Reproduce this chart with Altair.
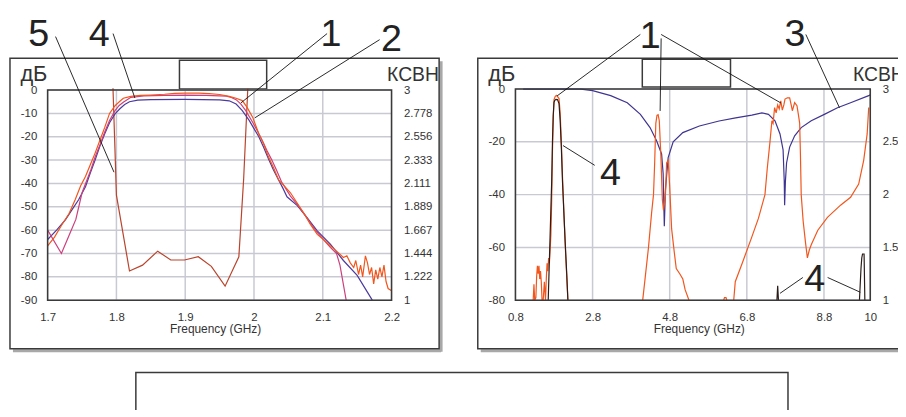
import altair as alt
import pandas as pd

# ---------------- data: left panel (1.7 - 2.2 GHz) ----------------
L_freq_ticks = [1.7, 1.8, 1.9, 2.0, 2.1, 2.2]
L_db_ticks = [0, -10, -20, -30, -40, -50, -60, -70, -80, -90]
L_vswr_ticks = [3, 2.778, 2.556, 2.333, 2.111, 1.889, 1.667, 1.444, 1.222, 1]

L_orange_f = [1.700, 1.710, 1.720, 1.731, 1.740, 1.748, 1.755, 1.762, 1.769, 1.776, 1.783, 1.790, 1.798,
              1.805, 1.810, 1.821, 1.835, 1.850, 1.870, 1.885, 1.900, 1.920, 1.935, 1.950, 1.964, 1.974,
              1.983, 1.990, 1.998, 2.007, 2.014, 2.021, 2.028, 2.036, 2.044, 2.053, 2.063, 2.073, 2.082,
              2.092, 2.101, 2.111, 2.120, 2.130, 2.135, 2.140, 2.145, 2.148, 2.152, 2.155, 2.158, 2.162,
              2.165, 2.168, 2.171, 2.174, 2.177, 2.180, 2.183, 2.186, 2.189, 2.192, 2.195, 2.200]
L_orange_db = [-66.7, -63, -58, -53, -47, -41, -37, -32, -27, -21.5, -16, -10, -6.7,
               -4.8, -3.5, -2.7, -2.3, -2.1, -1.8, -1.4, -1.3, -1.3, -1.5, -1.9, -2.7, -3.5,
               -4.5, -7.4, -11.6, -18.7, -23, -28.6, -33, -38.6, -41, -44, -48.5, -53, -57.5,
               -61.8, -64, -66.7, -69, -71.7, -71, -74, -76, -73, -79, -75, -80, -71,
               -74, -79, -76, -83, -77, -81, -76, -80, -75, -82, -85, -86]

L_magenta_f = [1.700, 1.720, 1.730, 1.741, 1.750, 1.757, 1.763, 1.769, 1.776, 1.783, 1.790, 1.798, 1.804,
               1.810, 1.821, 1.840, 1.870, 1.900, 1.930, 1.960, 1.967, 1.974, 1.981, 1.988, 1.998, 2.005,
               2.012, 2.019, 2.026, 2.033, 2.040, 2.053, 2.063, 2.073, 2.082, 2.092, 2.101, 2.111, 2.120,
               2.125, 2.134]
L_magenta_db = [-60, -70, -63, -55.4, -44, -38.6, -34, -28.7, -23.5, -18, -13, -8.8, -6.6,
                -5.2, -3.1, -2.5, -2.3, -2.2, -2.3, -2.6, -3.2, -4.1, -6, -8.8, -13.8, -17.5,
                -21.6, -26, -30, -34.5, -39.3, -45.4, -49, -53, -57, -61, -64, -67.4, -70,
                -75, -90]

L_blue_f = [1.700, 1.713, 1.726, 1.736, 1.745, 1.755, 1.762, 1.769, 1.776, 1.783, 1.790, 1.798, 1.805,
            1.812, 1.819, 1.831, 1.850, 1.900, 1.950, 1.964, 1.974, 1.983, 1.993, 2.000, 2.007, 2.014,
            2.021, 2.028, 2.036, 2.042, 2.048, 2.063, 2.078, 2.092, 2.111, 2.130, 2.150, 2.172]
L_blue_db = [-64, -60, -55.5, -51, -47, -41.4, -35.5, -30, -24, -18.7, -14, -10.2, -8,
             -6.2, -5, -4.3, -4.1, -4.0, -4.2, -4.6, -6, -8.8, -13, -16.5, -20, -24.5,
             -29.4, -34, -38.6, -42, -45.7, -49.5, -55, -60.3, -66, -73, -79.4, -90]

L_darkred_f = [1.795, 1.800, 1.819, 1.838, 1.860, 1.879, 1.899, 1.919, 1.938, 1.958, 1.978, 1.985, 1.991]
L_darkred_db = [0.8, -45, -77.5, -75, -69, -72.8, -72.8, -71.4, -75.5, -84, -71.4, -38, 0.8]

# ---------------- data: right panel (0.8 - 10 GHz) ----------------
R_freq_ticks = [0.8, 2.8, 4.8, 6.8, 8.8, 10]
R_db_ticks = [0, -20, -40, -60, -80]
R_vswr_ticks = [3, 2.5, 2, 1.5, 1]

R_blue_f = [1.0, 2.5, 2.8, 3.27, 3.7, 4.04, 4.29, 4.46, 4.59, 4.63, 4.66, 4.69, 4.76, 4.89, 5.14, 5.57,
            6.08, 6.51, 6.93, 7.19, 7.36, 7.53, 7.66, 7.74, 7.77, 7.78, 7.80, 7.83, 7.91, 8.04, 8.21,
            8.47, 8.81, 9.15, 9.49, 9.96, 10.0]
R_blue_db = [0, 0, -0.6, -2.5, -5.2, -9.6, -14.6, -19.6, -24.6, -32, -52, -38, -26, -20, -16.5, -14,
             -12.1, -10.9, -9.9, -9, -9.6, -12, -17, -23, -35, -44, -35, -28, -22, -17.7, -14.6,
             -12, -9.6, -7.1, -5.2, -2.5, -2.2]

R_orange1_f = [1.26, 1.28, 1.30, 1.33, 1.35, 1.37, 1.39, 1.41, 1.43, 1.45, 1.47, 1.49, 1.52, 1.55, 1.58,
               1.60, 1.62, 1.64, 1.66, 1.68, 1.70, 1.72, 1.74, 1.76, 1.78, 1.80, 1.83, 1.86, 1.90, 1.93,
               1.96, 1.99, 2.02, 2.06, 2.10, 2.14, 2.16]
R_orange1_db = [-80, -74, -80, -79, -71, -67, -70, -67, -72, -69, -73, -80, -80, -73, -80,
                -72, -66, -69, -64, -66, -61, -55, -42, -24, -11, -4, -2.8, -2.4, -3.0, -3.6,
                -9, -20, -33, -48, -62, -74, -80]
R_orange2_f = [4.10, 4.16, 4.25, 4.33, 4.38, 4.41, 4.44, 4.47, 4.50, 4.53, 4.57, 4.61, 4.64, 4.66, 4.69,
               4.72, 4.76, 4.80, 4.85, 4.92, 4.97, 5.06, 5.14, 5.20, 5.30]
R_orange2_db = [-80, -72, -60, -47, -40, -28, -13, -10, -9.7, -12, -25, -42, -46, -44, -40,
                -28, -27, -37, -53, -62, -68, -70, -72, -76, -80]
R_orange3_f = [6.20, 6.22, 6.26, 6.28]
R_orange3_db = [-80, -79, -79, -80]
R_orange4_f = [6.46, 6.50, 6.68, 6.93, 7.10, 7.27, 7.33, 7.40, 7.45, 7.48, 7.52, 7.56, 7.60, 7.64, 7.68,
               7.72, 7.76, 7.79, 7.85, 7.91, 7.95, 7.98, 8.04, 8.10, 8.14, 8.17, 8.19, 8.21, 8.26, 8.32,
               8.37, 8.42, 8.47, 8.64, 8.89, 9.23, 9.49, 9.70, 9.83, 9.92, 9.96]
R_orange4_db = [-80, -73, -66, -56, -49, -40, -30, -20, -12, -13, -7, -9, -6, -7.5, -4.5,
                -8, -6, -3.8, -3.3, -3.3, -6, -8.2, -5.1, -6.3, -10, -13, -25, -40, -50, -58,
                -64, -61, -59, -53.5, -48.6, -44, -41, -36, -27, -17, -7]

R_black1_f = [1.65, 1.69, 1.72, 1.74, 1.76, 1.78, 1.80, 1.82, 1.85, 1.89, 1.93, 1.96, 1.99, 2.02, 2.05,
              2.09, 2.13, 2.16]
R_black1_db = [-80, -60, -45, -35, -20, -10, -5, -4.3, -3.9, -4.0, -5.5, -12, -22, -35, -45,
               -58, -70, -80]
R_black2_f = [7.58, 7.60, 7.62]
R_black2_db = [-80, -74.5, -80]
R_black3_f = [9.72, 9.76, 9.78, 9.80, 9.84, 9.86]
R_black3_db = [-80, -68, -64, -62.5, -62.5, -80]

# annotation numbers and leader lines (panel data coordinates)
L_labels = ["5", "4", "1", "2"]
L_label_f = [1.687, 1.775, 2.112, 2.200]
L_label_db = [18.7, 18.7, 18.7, 16.6]
L_lead_f1 = [1.7115, 1.7951, 2.1063, 2.1827]
L_lead_db1 = [22.9, 24.2, 24.2, 21.6]
L_lead_f2 = [1.7965, 1.8268, 1.9810, 2.0012]
L_lead_db2 = [-35.2, -3.4, -5.5, -11.9]

R_labels = ["1", "3", "4", "4"]
R_label_f = [4.295, 8.047, 3.267, 8.561]
R_label_db = [15.4, 16.5, -36.4, -76.6]
R_lead_f1 = [4.038, 4.578, 4.578, 8.330, 2.856, 8.253, 8.895]
R_lead_db1 = [20.7, 19.2, 20.7, 20.7, -28.9, -71.4, -71.4]
R_lead_f2 = [1.879, 4.552, 7.687, 9.203, 2.034, 7.661, 9.743]
R_lead_db2 = [-2.6, -8.3, -5.3, -7.1, -21.4, -77.4, -77.0]

# ---------------- style / layout ----------------
FONT = "Liberation Sans"
W, H = 898, 402
LX, LY = [40, 387], [293, 81]
RX, RY = [512, 870], [293, 80]
ORANGE, MAGENTA, BLUE, DARKRED = "#f2561d", "#cc3f7d", "#4b3a9e", "#b9432b"
BLACK, BLUE3, GRID, FRAME = "#2a1c18", "#3e3491", "#c9c9d4", "#3a3a3a"

Lxs = alt.Scale(domain=[1.7, 2.2], range=LX, nice=False, zero=False)
Lys = alt.Scale(domain=[-90, 0], range=LY, nice=False, zero=False)
Lvs = alt.Scale(domain=[1, 3], range=LY, nice=False, zero=False)
Rxs = alt.Scale(domain=[0.8, 10], range=RX, nice=False, zero=False)
Rys = alt.Scale(domain=[-80, 0], range=RY, nice=False, zero=False)
Rvs = alt.Scale(domain=[1, 3], range=RY, nice=False, zero=False)


def ax(**kw):
    base = dict(grid=False, ticks=False, domain=False, labelFont=FONT, labelFontSize=11.5,
                labelColor="#333", labelOverlap=False, labelFlush=False, zindex=1,
                labelExpr="'' + datum.value", titleFont=FONT, titleColor="#333",
                titleFontWeight="normal")
    base.update(kw)
    return alt.Axis(**base)


one = pd.DataFrame({"k": [0]})


def prect(x, x2, y, y2, stroke=FRAME, sw=1.5, fill="white", fo=0.0):
    return alt.Chart(one).mark_rect(stroke=stroke, strokeWidth=sw, fill=fill, fillOpacity=fo).encode(
        x=alt.value(x), x2=alt.value(x2), y=alt.value(y), y2=alt.value(y2))


def prule(x, x2, y, y2, color="#a8a8a8", sw=3):
    return alt.Chart(one).mark_rule(color=color, strokeWidth=sw).encode(
        x=alt.value(x), x2=alt.value(x2), y=alt.value(y), y2=alt.value(y2))


def curve(fl, dbl, color, xs, ys, sw=1.2):
    segs = []
    for i, (f, d) in enumerate(zip(fl, dbl)):
        segs.append(pd.DataFrame({"f": f, "db": d, "seg": i}))
    df = pd.concat(segs)
    return alt.Chart(df).mark_line(color=color, strokeWidth=sw).encode(
        x=alt.X("f:Q", scale=xs, axis=None), y=alt.Y("db:Q", scale=ys, axis=None), detail="seg:N")


layers = []
# outer frames with shadows
layers += [prule(437, 437, 52, 345), prule(5, 437, 344, 344),
           prect(2, 435, 49, 342),
           prule(477, 905, 344, 344),
           prect(474, 920, 49, 342),
           prect(129, 787, 366, 430)]
# small boxes at the top
layers += [prect(173, 261, 51, 80, fo=1.0), prect(640, 729, 50, 78, fo=1.0)]


def panel(fticks, dbticks, vticks, dom_f, dom_db, xs, ys, vs, xr, title_x, db_title_x, v_title_x):
    out = []
    hdf = pd.DataFrame({"db": dbticks, "x0": dom_f[0], "x1": dom_f[1]})
    out.append(alt.Chart(hdf).mark_rule(color=GRID, strokeWidth=1.5).encode(
        x=alt.X("x0:Q", scale=xs, axis=None), x2="x1:Q",
        y=alt.Y("db:Q", scale=ys, axis=ax(orient="left", offset=-xr[0], values=dbticks, labelPadding=11,
                                          title="дБ", titleAngle=0, titleX=db_title_x, titleY=71,
                                          titleAlign="left", titleBaseline="alphabetic",
                                          titleFontSize=22))))
    vdf = pd.DataFrame({"f": fticks[1:-1], "y0": dom_db[0], "y1": dom_db[1]})
    out.append(alt.Chart(vdf).mark_rule(color=GRID, strokeWidth=1.5).encode(
        x=alt.X("f:Q", scale=xs, axis=ax(orient="bottom", offset=LY[0] - H, values=fticks,
                                         labelPadding=21, labelBaseline="alphabetic",
                                         title="Frequency (GHz)", titleFontSize=12, titleX=title_x,
                                         titleY=33, titleAlign="center", titleBaseline="alphabetic")),
        y=alt.Y("y0:Q", scale=ys, axis=None), y2="y1:Q"))
    sdf = pd.DataFrame({"v": vticks})
    out.append(alt.Chart(sdf).mark_rule(opacity=0).encode(
        y=alt.Y("v:Q", scale=vs, axis=ax(orient="right", offset=xr[1] - W, values=vticks, labelPadding=12,
                                         labelAlign="left",
                                         title="КСВН", titleAngle=0, titleX=v_title_x, titleY=71,
                                         titleAlign="left", titleBaseline="alphabetic",
                                         titleFontSize=19.5))))
    return out


layers += panel(L_freq_ticks, L_db_ticks, L_vswr_ticks, [1.7, 2.2], [-90, 0], Lxs, Lys, Lvs, LX,
                209, -28, -5)
layers += panel(R_freq_ticks, R_db_ticks, R_vswr_ticks, [0.8, 10], [-80, 0], Rxs, Rys, Rvs, RX,
                697, -28, -18)

# curves, left
layers += [curve([L_darkred_f], [L_darkred_db], DARKRED, Lxs, Lys),
           curve([L_blue_f], [L_blue_db], BLUE, Lxs, Lys),
           curve([L_magenta_f], [L_magenta_db], MAGENTA, Lxs, Lys),
           curve([L_orange_f], [L_orange_db], ORANGE, Lxs, Lys)]
# curves, right
layers += [curve([R_blue_f], [R_blue_db], BLUE3, Rxs, Rys),
           curve([R_orange1_f, R_orange2_f, R_orange3_f, R_orange4_f],
                 [R_orange1_db, R_orange2_db, R_orange3_db, R_orange4_db], ORANGE, Rxs, Rys),
           curve([R_black1_f, R_black2_f, R_black3_f], [R_black1_db, R_black2_db, R_black3_db],
                 BLACK, Rxs, Rys)]

# plot frames
for dom_f, dom_db, xs, ys in [([1.7, 2.2], [-90, 0], Lxs, Lys), ([0.8, 10], [-80, 0], Rxs, Rys)]:
    fdf = pd.DataFrame({"x0": [dom_f[0]], "x1": [dom_f[1]], "y0": [dom_db[0]], "y1": [dom_db[1]]})
    layers.append(alt.Chart(fdf).mark_rect(stroke=FRAME, strokeWidth=1.6, fill="white", fillOpacity=0).encode(
        x=alt.X("x0:Q", scale=xs, axis=None), x2="x1:Q",
        y=alt.Y("y0:Q", scale=ys, axis=None), y2="y1:Q"))

# leaders and numbers
for f1, d1, f2, d2, xs, ys in [(L_lead_f1, L_lead_db1, L_lead_f2, L_lead_db2, Lxs, Lys),
                               (R_lead_f1, R_lead_db1, R_lead_f2, R_lead_db2, Rxs, Rys)]:
    ldf = pd.DataFrame({"f1": f1, "d1": d1, "f2": f2, "d2": d2})
    layers.append(alt.Chart(ldf).mark_rule(color="#111", strokeWidth=0.9).encode(
        x=alt.X("f1:Q", scale=xs, axis=None), y=alt.Y("d1:Q", scale=ys, axis=None),
        x2="f2:Q", y2="d2:Q"))
for lab, lf, ld, xs, ys in [(L_labels, L_label_f, L_label_db, Lxs, Lys),
                            (R_labels, R_label_f, R_label_db, Rxs, Rys)]:
    tdf = pd.DataFrame({"t": lab, "f": lf, "db": ld})
    layers.append(alt.Chart(tdf).mark_text(font=FONT, fontSize=38, color="#222", align="center",
                                           baseline="alphabetic").encode(
        x=alt.X("f:Q", scale=xs, axis=None), y=alt.Y("db:Q", scale=ys, axis=None), text="t:N"))

chart = alt.layer(*layers).resolve_scale(x="independent", y="independent").resolve_axis(
    x="independent", y="independent").properties(
    width=W, height=H, padding=0, autosize=alt.AutoSizeParams(type="none")).configure_view(stroke=None)

chart.save("out.html", embed_options={"renderer": "svg", "actions": False})
